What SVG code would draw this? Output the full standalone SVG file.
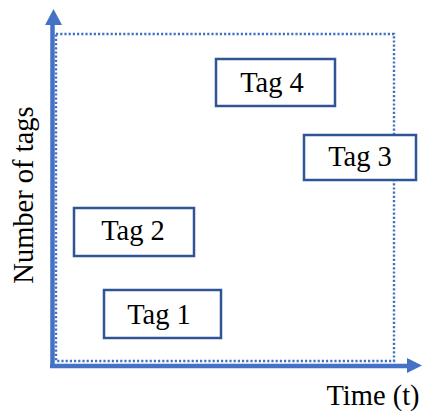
<svg xmlns="http://www.w3.org/2000/svg" width="423" height="411" viewBox="0 0 423 411">
<style>
.box{fill:#fff;stroke:#2F5597;stroke-width:2.5}
.lbl{font-family:"Liberation Serif","Times New Roman",serif;font-size:28.5px;fill:#000;text-anchor:middle}
.dot{fill:none;stroke:#4472C4;stroke-width:2.4;stroke-dasharray:2.2 2}
.axis{stroke:#4472C4;stroke-width:4.5;fill:none}
</style>
<rect width="423" height="411" fill="#fff"/>
<g id="connectors">
<rect class="dot" x="56" y="34" width="338" height="327"/>
<line class="axis" x1="52.5" y1="368" x2="52.5" y2="22"/>
<polygon points="53.5,9 45,25 62,25" fill="#4472C4"/>
<line class="axis" x1="50" y1="366" x2="409" y2="366"/>
<polygon points="422,365.5 407,358 407,373" fill="#4472C4"/>
</g>
<g id="tag4"><rect class="box" x="216" y="59" width="119" height="47"/><text class="lbl" x="272" y="92">Tag 4</text></g>
<g id="tag3"><rect class="box" x="304" y="135" width="112" height="45"/><text class="lbl" x="360" y="166">Tag 3</text></g>
<g id="tag2"><rect class="box" x="74" y="208" width="120" height="48"/><text class="lbl" x="133" y="240">Tag 2</text></g>
<g id="tag1"><rect class="box" x="104" y="290" width="117" height="48"/><text class="lbl" x="159" y="324">Tag 1</text></g>
<g id="labels">
<text class="lbl" x="373" y="405">Time (t)</text>
<text class="lbl" transform="translate(33,195) rotate(-90)">Number of tags</text>
</g>
</svg>
